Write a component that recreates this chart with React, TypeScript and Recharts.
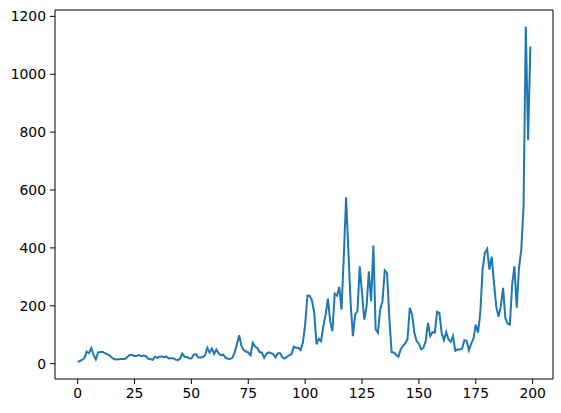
import { LineChart, Line, XAxis, YAxis, ReferenceLine } from "recharts";

// values, index 0..199 split in blocks of 50
const block0 = [
  6, 9, 13, 20, 42, 36, 54, 30, 15, 39, 40, 41, 36, 32, 29, 21, 16, 14, 15, 16,
  16, 17, 24, 31, 30, 26, 27, 30, 26, 28, 26, 17, 16, 13, 24, 20, 24, 25, 22, 25,
  18, 19, 19, 14, 12, 17, 35, 24, 23, 19,
];
const block1 = [
  18, 31, 33, 21, 21, 23, 29, 55, 38, 52, 34, 49, 36, 29, 31, 21, 17, 16, 20, 38,
  67, 98, 61, 47, 42, 38, 29, 72, 59, 54, 40, 38, 20, 34, 39, 36, 33, 22, 36, 36,
  22, 18, 24, 29, 33, 59, 55, 55, 47, 72,
];
const block2 = [
  135, 235, 235, 218, 176, 67, 86, 78, 130, 170, 225, 147, 112, 242, 235, 265, 187, 370, 575, 390,
  210, 95, 170, 181, 336, 244, 152, 198, 319, 216, 408, 118, 107, 187, 216, 322, 313, 160, 40, 38,
  31, 24, 49, 61, 70, 84, 193, 170, 107, 78,
];
const block3 = [
  69, 49, 55, 78, 141, 95, 109, 107, 179, 175, 107, 81, 109, 84, 75, 95, 44, 49, 49, 52,
  81, 79, 46, 69, 86, 135, 107, 176, 325, 382, 396, 325, 370, 279, 198, 162, 198, 262, 158, 139,
  135, 273, 336, 193, 330, 393, 543, 1164, 772, 1096,
];

const xTicks = [0, 25, 50, 75, 100, 125, 150, 175, 200];
const yTicks = [0, 200, 400, 600, 800, 1000, 1200];
const xDomain = [-9.95, 208.95];
const yDomain = [-53, 1222];

const values = [...block0, ...block1, ...block2, ...block3];
const data = values.map((v, i) => ({ x: i, y: v }));

const tickStyle = { fill: "#000", fontSize: 13.9, fontFamily: "DejaVu Sans" };

export default function App() {
  return (
    <div style={{ position: "absolute", left: 0, top: 0 }}>
      <LineChart width={561} height={413} data={data} margin={{ top: 10, right: 8, bottom: 4, left: 0 }}>
        <XAxis
          dataKey="x"
          type="number"
          domain={xDomain}
          ticks={xTicks}
          allowDataOverflow
          height={30}
          stroke="#000"
          tickSize={5}
          tickMargin={4}
          tick={tickStyle}
        />
        <YAxis
          type="number"
          domain={yDomain}
          ticks={yTicks}
          allowDataOverflow
          width={55}
          stroke="#000"
          tickSize={5}
          tickMargin={4}
          tick={tickStyle}
        />
        {/* top and right spines */}
        <ReferenceLine y={yDomain[1]} stroke="#000" strokeWidth={1} ifOverflow="visible" />
        <ReferenceLine x={xDomain[1]} stroke="#000" strokeWidth={1} ifOverflow="visible" />
        <Line
          type="linear"
          dataKey="y"
          stroke="#1f77b4"
          strokeWidth={2}
          dot={false}
          isAnimationActive={false}
        />
      </LineChart>
    </div>
  );
}
